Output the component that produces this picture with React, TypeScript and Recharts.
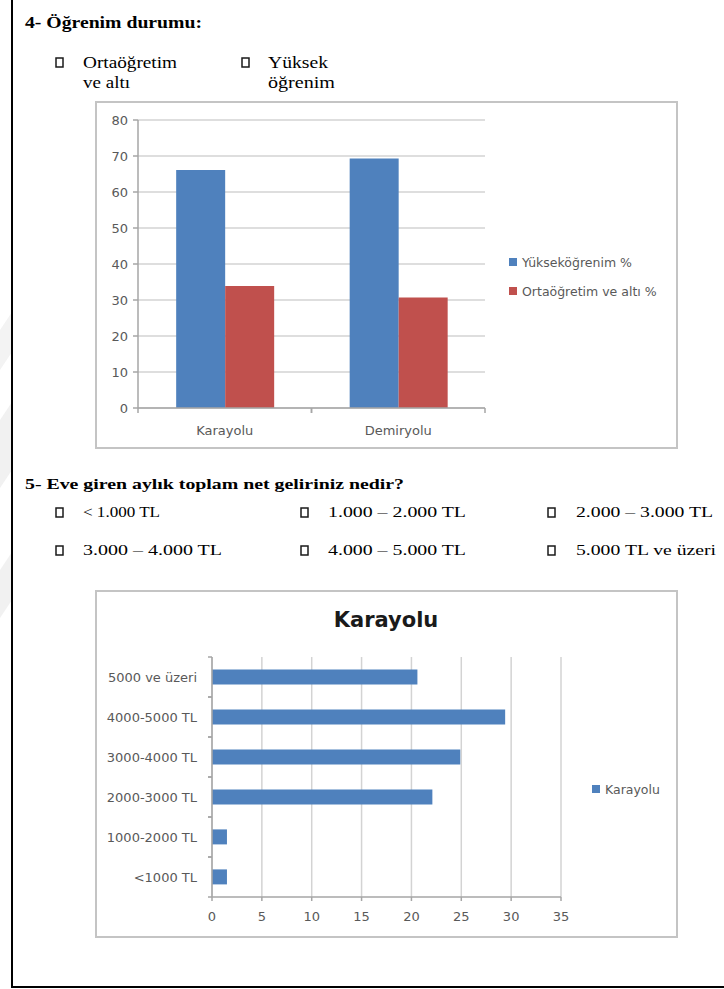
import React from 'react';
import { BarChart, Bar, XAxis, YAxis, CartesianGrid, Legend } from 'recharts';

// Question 4: education level by transport mode (%)
const transportModes = ['Karayolu', 'Demiryolu'];
const higherEducationPct = [66.1, 69.3];
const secondaryOrLowerPct = [33.9, 30.7];
const educationTicks = [0, 10, 20, 30, 40, 50, 60, 70, 80];

// Question 5: monthly household net income, road passengers (%)
const incomeBands = ['<1000 TL', '1000-2000 TL', '2000-3000 TL', '3000-4000 TL', '4000-5000 TL', '5000 ve üzeri'];
const roadIncomePct = [1.5, 1.5, 22.1, 24.9, 29.4, 20.6];
const incomeTicks = [0, 5, 10, 15, 20, 25, 30, 35];

const educationData = transportModes.map((mode, i) => ({
  mode,
  higher: higherEducationPct[i],
  secondary: secondaryOrLowerPct[i],
}));

const incomeData = incomeBands.map((band, i) => ({ band, road: roadIncomePct[i] }));

const BLUE = '#4F81BD';
const RED = '#C0504D';
const CHART_FONT = '"DejaVu Sans", "Open Sans", sans-serif';
const SERIF = '"Liberation Serif", "Times New Roman", serif';
const TEXT_GRAY = '#595959';
const AXIS_GRAY = '#a6a6a6';
const GRID_GRAY = '#d3d3d3';

// Category tick for a horizontal band axis: boundary marks plus centred label
const ModeTick = (props: any) => {
  const { x, y, payload } = props;
  const off = payload && payload.offset != null ? payload.offset : 86.75;
  return (
    <g>
      <line x1={x - off} x2={x - off} y1={y} y2={y + 5} stroke={AXIS_GRAY} strokeWidth={1.5} />
      <line x1={x + off} x2={x + off} y1={y} y2={y + 5} stroke={AXIS_GRAY} strokeWidth={1.5} />
      <text x={x} y={y + 27} textAnchor="middle" fill={TEXT_GRAY} fontSize={13} fontFamily={CHART_FONT}>
        {payload.value}
      </text>
    </g>
  );
};

// Category tick for a vertical band axis
const IncomeTick = (props: any) => {
  const { x, y, payload } = props;
  const off = payload && payload.offset != null ? payload.offset : 20;
  return (
    <g>
      <line x1={x - 4} x2={x} y1={y - off} y2={y - off} stroke={AXIS_GRAY} strokeWidth={1.5} />
      <line x1={x - 4} x2={x} y1={y + off} y2={y + off} stroke={AXIS_GRAY} strokeWidth={1.5} />
      <text x={x - 15} y={y} dy="0.355em" textAnchor="end" fill={TEXT_GRAY} fontSize={13} fontFamily={CHART_FONT}>
        {payload.value}
      </text>
    </g>
  );
};

const SquareLegend = (props: any) => {
  const items = props.payload || [];
  return (
    <div style={{ fontFamily: CHART_FONT, fontSize: 12.5, color: TEXT_GRAY }}>
      {items.map((it: any) => (
        <div key={it.value} style={{ display: 'flex', alignItems: 'center', height: 29, whiteSpace: 'nowrap' }}>
          <span style={{ display: 'inline-block', width: 8, height: 8, background: it.color, marginRight: 5 }} />
          <span>{it.value}</span>
        </div>
      ))}
    </div>
  );
};

const Checkbox = ({ x, y }: { x: number; y: number }) => (
  <rect x={x} y={y} width={7} height={9} fill="none" stroke="#1a1a1a" strokeWidth={1.5} />
);

export default function App() {
  return (
    <div
      style={{
        position: 'absolute',
        left: 0,
        top: 0,
        width: 724,
        height: 989,
        background: '#fff',
        overflow: 'hidden',
      }}
    >
      {/* page text, frame and option boxes */}
      <svg width={724} height={989} style={{ position: 'absolute', left: 0, top: 0 }}>
        <polygon points="0,330 12,312 12,352 0,370" fill="#f3f3f3" />
        <polygon points="0,420 12,402 12,470 0,488" fill="#f1f1f1" />
        <polygon points="0,570 12,552 12,600 0,618" fill="#f1f1f1" />
        <line x1={12} y1={0} x2={12} y2={988} stroke="#000" strokeWidth={2} />
        <line x1={11} y1={987} x2={724} y2={987} stroke="#000" strokeWidth={2} />

        <text x={25} y={28} fontFamily={SERIF} fontWeight="bold" fontSize={16} textLength={177} lengthAdjust="spacingAndGlyphs">
          4- Öğrenim durumu:
        </text>
        <Checkbox x={56} y={58} />
        <text x={83} y={68} fontFamily={SERIF} fontSize={16} textLength={94} lengthAdjust="spacingAndGlyphs">Ortaöğretim</text>
        <text x={83} y={88} fontFamily={SERIF} fontSize={16} textLength={47} lengthAdjust="spacingAndGlyphs">ve altı</text>
        <Checkbox x={242} y={58} />
        <text x={268} y={68} fontFamily={SERIF} fontSize={16} textLength={60} lengthAdjust="spacingAndGlyphs">Yüksek</text>
        <text x={268} y={88} fontFamily={SERIF} fontSize={16} textLength={67} lengthAdjust="spacingAndGlyphs">öğrenim</text>

        <text x={25} y={489} fontFamily={SERIF} fontWeight="bold" fontSize={15.5} textLength={379} lengthAdjust="spacingAndGlyphs">
          5- Eve giren aylık toplam net geliriniz nedir?
        </text>
        <Checkbox x={56} y={508} />
        <text x={83} y={517} fontFamily={SERIF} fontSize={14} textLength={77} lengthAdjust="spacingAndGlyphs">&lt; 1.000 TL</text>
        <Checkbox x={301} y={508} />
        <text x={328} y={517} fontFamily={SERIF} fontSize={14} textLength={138} lengthAdjust="spacingAndGlyphs">1.000 – 2.000 TL</text>
        <Checkbox x={548} y={508} />
        <text x={576} y={517} fontFamily={SERIF} fontSize={14} textLength={137} lengthAdjust="spacingAndGlyphs">2.000 – 3.000 TL</text>
        <Checkbox x={56} y={546} />
        <text x={83} y={555} fontFamily={SERIF} fontSize={14} textLength={139} lengthAdjust="spacingAndGlyphs">3.000 – 4.000 TL</text>
        <Checkbox x={301} y={546} />
        <text x={328} y={555} fontFamily={SERIF} fontSize={14} textLength={138} lengthAdjust="spacingAndGlyphs">4.000 – 5.000 TL</text>
        <Checkbox x={548} y={546} />
        <text x={576} y={555} fontFamily={SERIF} fontSize={14} textLength={140} lengthAdjust="spacingAndGlyphs">5.000 TL ve üzeri</text>

        {/* chart frames */}
        <rect x={96} y={102} width={581} height={346} fill="none" stroke="#c4c4c4" strokeWidth={2} />
        <rect x={96} y={591} width={581} height={346} fill="none" stroke="#c4c4c4" strokeWidth={2} />

        <text x={386} y={627} textAnchor="middle" fontFamily={CHART_FONT} fontWeight="bold" fontSize={21} fill="#1a1a1a">
          Karayolu
        </text>
      </svg>

      {/* education chart */}
      <div style={{ position: 'absolute', left: 96, top: 102, width: 581, height: 346 }}>
        <BarChart
          width={581}
          height={346}
          data={educationData}
          margin={{ top: 18, right: 192, bottom: 10, left: 0 }}
          barCategoryGap="22%"
          barGap={0}
        >
          <CartesianGrid horizontal vertical={false} stroke={GRID_GRAY} strokeWidth={1.5} />
          <XAxis
            dataKey="mode"
            height={30}
            axisLine={{ stroke: AXIS_GRAY, strokeWidth: 1.5 }}
            tickLine={false}
            tickSize={0}
            tickMargin={0}
            interval={0}
            tick={(p: any) => <ModeTick {...p} />}
          />
          <YAxis
            type="number"
            domain={[0, 80]}
            ticks={educationTicks}
            interval={0}
            width={42}
            tickSize={5}
            tickMargin={5}
            axisLine={{ stroke: AXIS_GRAY, strokeWidth: 1.5 }}
            tickLine={{ stroke: AXIS_GRAY, strokeWidth: 1.5 }}
            tick={{ fill: TEXT_GRAY, fontSize: 13, fontFamily: CHART_FONT }}
          />
          <Legend
            layout="vertical"
            align="center"
            verticalAlign="middle"
            itemSorter="dataKey"
            wrapperStyle={{ left: 413, top: 145.5, width: 'auto' }}
            content={(p: any) => <SquareLegend {...p} />}
          />
          <Bar dataKey="higher" name="Yükseköğrenim %" fill={BLUE} isAnimationActive={false} />
          <Bar dataKey="secondary" name="Ortaöğretim ve altı %" fill={RED} isAnimationActive={false} />
        </BarChart>
      </div>

      {/* income chart */}
      <div style={{ position: 'absolute', left: 96, top: 590, width: 581, height: 347 }}>
        <BarChart
          width={581}
          height={347}
          data={incomeData}
          layout="vertical"
          margin={{ top: 67, right: 116, bottom: 10, left: 0 }}
          barCategoryGap="31%"
        >
          <CartesianGrid horizontal={false} vertical stroke={GRID_GRAY} strokeWidth={1.5} />
          <XAxis
            type="number"
            domain={[0, 35]}
            ticks={incomeTicks}
            interval={0}
            height={30}
            tickSize={4}
            tickMargin={11}
            axisLine={{ stroke: AXIS_GRAY, strokeWidth: 1.5 }}
            tickLine={{ stroke: AXIS_GRAY, strokeWidth: 1.5 }}
            tick={{ fill: TEXT_GRAY, fontSize: 13, fontFamily: CHART_FONT }}
          />
          <YAxis
            type="category"
            dataKey="band"
            reversed
            width={116}
            interval={0}
            tickSize={0}
            tickMargin={0}
            tickLine={false}
            axisLine={{ stroke: AXIS_GRAY, strokeWidth: 1.5 }}
            tick={(p: any) => <IncomeTick {...p} />}
          />
          <Legend
            layout="vertical"
            align="center"
            verticalAlign="middle"
            wrapperStyle={{ left: 496, top: 184.5, width: 'auto' }}
            content={(p: any) => <SquareLegend {...p} />}
          />
          <Bar dataKey="road" name="Karayolu" fill={BLUE} isAnimationActive={false} />
        </BarChart>
      </div>
    </div>
  );
}
